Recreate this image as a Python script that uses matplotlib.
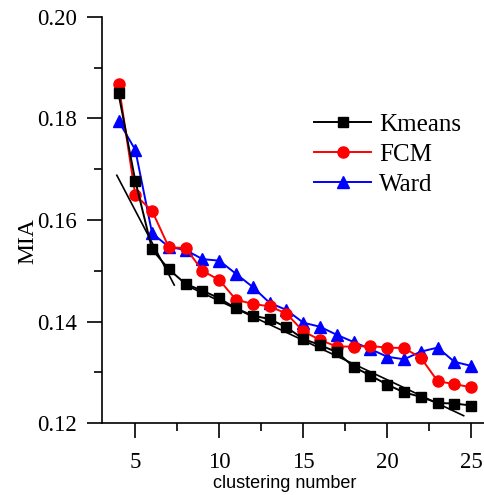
import numpy as np
import matplotlib
matplotlib.use("Agg")
import matplotlib.pyplot as plt
from matplotlib.ticker import MultipleLocator, FormatStrFormatter

# clustering numbers
k = [4, 5, 6, 7, 8, 9, 10, 11, 12, 13, 14, 15, 16, 17, 18, 19, 20, 21, 22, 23, 24, 25]

# MIA values
kmeans = [0.1849, 0.1677, 0.1542, 0.1503, 0.1474, 0.1461, 0.1446, 0.1426, 0.1412, 0.1405,
          0.1389, 0.1366, 0.1354, 0.1340, 0.1311, 0.1294, 0.1276, 0.1261, 0.1252, 0.1240,
          0.1239, 0.1235]
fcm = [0.1868, 0.1649, 0.1618, 0.1546, 0.1545, 0.1500, 0.1482, 0.1443, 0.1435, 0.1430,
       0.1416, 0.1381, 0.1364, 0.1351, 0.1351, 0.1352, 0.1349, 0.1348, 0.1329, 0.1283,
       0.1277, 0.1271]
ward = [0.1795, 0.1738, 0.1574, 0.1547, 0.1541, 0.1523, 0.1520, 0.1494, 0.1468, 0.1437,
        0.1423, 0.1398, 0.1390, 0.1374, 0.1360, 0.1346, 0.1331, 0.1326, 0.1341, 0.1349,
        0.1321, 0.1313]

# the two straight fit lines (end points)
fit1_x = [3.9, 7.32]
fit1_y = [0.1688, 0.1472]
fit2_x = [7.8, 24.55]
fit2_y = [0.1475, 0.1215]

serif = "Liberation Serif"
sans = "Liberation Sans"

fig = plt.figure(figsize=(4.85, 4.95), dpi=100)
ax = fig.add_axes([0.2097, 0.1448, 0.7903, 0.8215])

ax.plot(fit1_x, fit1_y, color="black", lw=1.2, zorder=1)
ax.plot(fit2_x, fit2_y, color="black", lw=1.2, zorder=1)

lw = 1.4
ax.plot(k, ward, color="blue", lw=lw, marker="^", ms=9, label="Ward", zorder=2)
ax.plot(k, fcm, color="red", lw=lw, marker="o", ms=8, label="FCM", zorder=3)
ax.plot(k, kmeans, color="black", lw=lw, marker="s", ms=7, label="Kmeans", zorder=4)

ax.set_xlim(3, 25.82)
ax.set_ylim(0.12, 0.20)

for s in ["top", "right"]:
    ax.spines[s].set_visible(False)
for s in ["left", "bottom"]:
    ax.spines[s].set_linewidth(1.2)

ax.xaxis.set_major_locator(MultipleLocator(5))
ax.xaxis.set_minor_locator(MultipleLocator(2.5))
ax.yaxis.set_major_locator(MultipleLocator(0.02))
ax.yaxis.set_minor_locator(MultipleLocator(0.01))
ax.yaxis.set_major_formatter(FormatStrFormatter("%.2f"))
ax.set_xticks([5, 10, 15, 20, 25])

ax.tick_params(which="major", direction="out", length=10.8, width=1.2)
ax.tick_params(which="minor", direction="out", length=5.6, width=1.2)
ax.tick_params(axis="y", which="major", pad=7)
ax.tick_params(axis="x", which="major", pad=10)
for lab in ax.get_xticklabels() + ax.get_yticklabels():
    lab.set_fontfamily(serif)
    lab.set_fontsize(16.5)

ax.set_xlabel("clustering number", fontfamily=sans, fontsize=13)
ax.xaxis.set_label_coords(0.478, -0.128)
ax.set_ylabel("MIA", fontfamily=serif, fontsize=17)
ax.yaxis.set_label_coords(-0.165, 0.448)

h, l = ax.get_legend_handles_labels()
ax.legend(h[::-1], l[::-1], loc="upper left", bbox_to_anchor=(0.495, 0.818),
          frameon=False, prop={"family": serif, "size": 18},
          handlelength=2.3, labelspacing=0.3, handletextpad=0.3)

fig.savefig("out.png", dpi=100)
